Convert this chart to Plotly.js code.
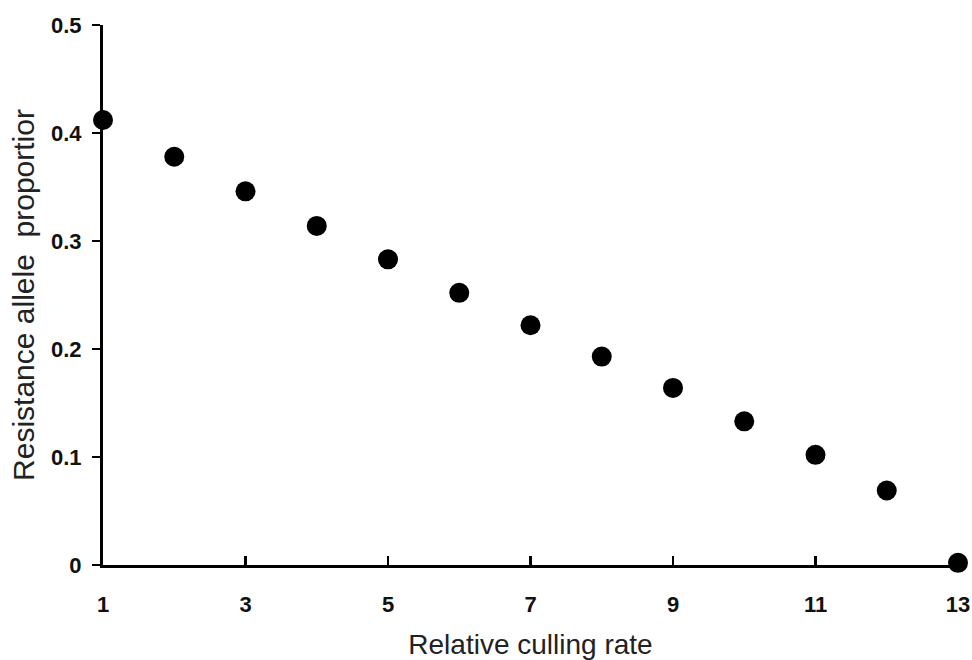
<!DOCTYPE html>
<html>
<head>
<meta charset="utf-8">
<script src="https://cdn.plot.ly/plotly-3.0.1.min.js"></script>
<style>html,body{margin:0;padding:0;background:#fff;}#chart{width:972px;height:660px;}</style>
</head>
<body>
<div id="chart"></div>
<script>
const cullingRate = [1, 2, 3, 4, 5, 6, 7, 8, 9, 10, 11, 12, 13];
const alleleProportion = [0.412, 0.378, 0.346, 0.314, 0.283, 0.252, 0.222, 0.193, 0.164, 0.133, 0.102, 0.069, 0.002];
const xTickVals = [1, 3, 5, 7, 9, 11, 13];
const yTickVals = [0, 0.1, 0.2, 0.3, 0.4, 0.5];
const yTickText = ['0', '0.1', '0.2', '0.3', '0.4', '0.5'];

const trace = {
  x: cullingRate,
  y: alleleProportion,
  type: 'scatter',
  mode: 'markers',
  marker: {size: 20, color: '#000'},
  cliponaxis: false,
  hoverinfo: 'none'
};

const tickFont = {family: 'Liberation Sans, Arial, sans-serif', size: 22, color: '#111', weight: 'bold'};
const layout = {
  width: 972, height: 660,
  margin: {l: 103, r: 14, t: 25, b: 95},
  paper_bgcolor: '#fff', plot_bgcolor: '#fff',
  showlegend: false,
  xaxis: {
    range: [1, 13],
    tickvals: xTickVals,
    ticktext: xTickVals.map(String),
    ticks: 'inside', ticklen: 9, tickwidth: 2.5, tickcolor: '#000',
    showline: true, linecolor: '#000', linewidth: 3,
    showgrid: false, zeroline: false,
    tickfont: tickFont,
    ticklabelstandoff: 18,
    title: {text: 'Relative culling rate', font: {family: 'Liberation Sans, Arial, sans-serif', size: 28, color: '#222'}, standoff: 18},
    automargin: false
  },
  yaxis: {
    range: [0, 0.5],
    tickvals: yTickVals,
    ticktext: yTickText,
    ticks: 'outside', ticklen: 8, tickwidth: 2.5, tickcolor: '#000',
    showline: true, linecolor: '#000', linewidth: 3,
    showgrid: false, zeroline: false,
    tickfont: tickFont,
    ticklabelstandoff: 6,
    title: {text: 'Resistance allele  proportior', font: {family: 'Liberation Sans, Arial, sans-serif', size: 30, color: '#222'}, standoff: 8},
    automargin: false
  }
};

Plotly.newPlot('chart', [trace], layout, {displayModeBar: false, staticPlot: true});
</script>
</body>
</html>
